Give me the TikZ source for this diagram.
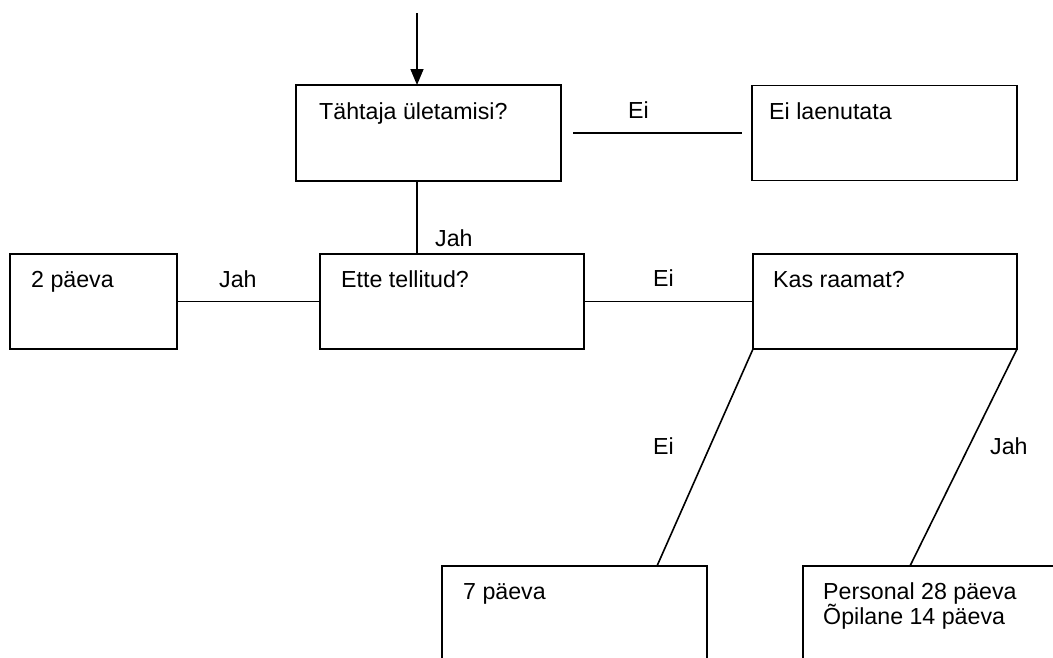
\documentclass[tikz,border=0pt]{standalone}
\usepackage{fontspec}
\setmainfont{Liberation Sans}
\usetikzlibrary{arrows.meta,calc}
\tikzset{
  box/.style={draw, line width=1.6pt, inner sep=0pt, outer sep=0pt, anchor=north west},
  boxtext/.style={anchor=base west, inner sep=0pt, align=left, font=\fontsize{23.2}{25.5}\selectfont},
  lbl/.style={anchor=base west, inner sep=0pt, font=\fontsize{23.2}{25.5}\selectfont},
  conn/.style={line width=1.6pt},
}
\begin{document}
\begin{tikzpicture}[x=1pt,y=-1pt]
\useasboundingbox (0,0) rectangle (1053,657);
\clip (0,0) rectangle (1053,657);
\fill[white] (0,0) rectangle (1053,657);
% boxes
\node[box, minimum width=265pt, minimum height=96pt] (top) at (296,85) {};
\node[box, minimum width=265pt, minimum height=95pt] (eil) at (752,85.5) {};
\node[box, minimum width=167pt, minimum height=95pt] (twod) at (10,254) {};
\node[box, minimum width=264pt, minimum height=95pt] (ette) at (320,254) {};
\node[box, minimum width=264pt, minimum height=95pt] (kas) at (753,254) {};
\node[box, minimum width=265pt, minimum height=130pt] (seven) at (442,566) {};
\node[box, minimum width=300pt, minimum height=130pt] (pers) at (803,566) {};
% texts
\node[boxtext] (toptxt) at (319,119) {Tähtaja ületamisi?};
\node[boxtext] (eiltxt) at (769,119) {Ei laenutata};
\node[boxtext] (twodtxt) at (31,287) {2 päeva};
\node[boxtext] (ettetxt) at (341,287) {Ette tellitud?};
\node[boxtext] (kastxt) at (773,287) {Kas raamat?};
\node[boxtext] (seventxt) at (463,599) {7 päeva};
\node[boxtext] (perstxt) at (823,624.5) {Personal 28 päeva\\Õpilane 14 päeva};
% connectors
\coordinate (start) at (417,13);
\draw[conn, -{Triangle[length=16pt,width=13pt]}] (start) -- (start |- top.north);
\draw[conn] (start |- top.south) -- (start |- ette.north);
\draw[conn] (twod.east) -- (ette.west);
\draw[conn] (ette.east) -- (kas.west);
\coordinate (eia) at (573,133);
\coordinate (eib) at (742,133);
\draw[conn] (eia) -- (eib);
\coordinate (sevenin) at ($(seven.north west)+(215,0)$);
\coordinate (persin) at ($(pers.north west)+(107,0)$);
\draw[conn] (kas.south west) -- (sevenin);
\draw[conn] (kas.south east) -- (persin);
% labels
\node[lbl] (l1) at (435,246) {Jah};
\node[lbl] (l2) at (628,118) {Ei};
\node[lbl] (l3) at (219,287) {Jah};
\node[lbl] (l4) at (653,286) {Ei};
\node[lbl] (l5) at (653,454) {Ei};
\node[lbl] (l6) at (990,454) {Jah};
\end{tikzpicture}
\end{document}
